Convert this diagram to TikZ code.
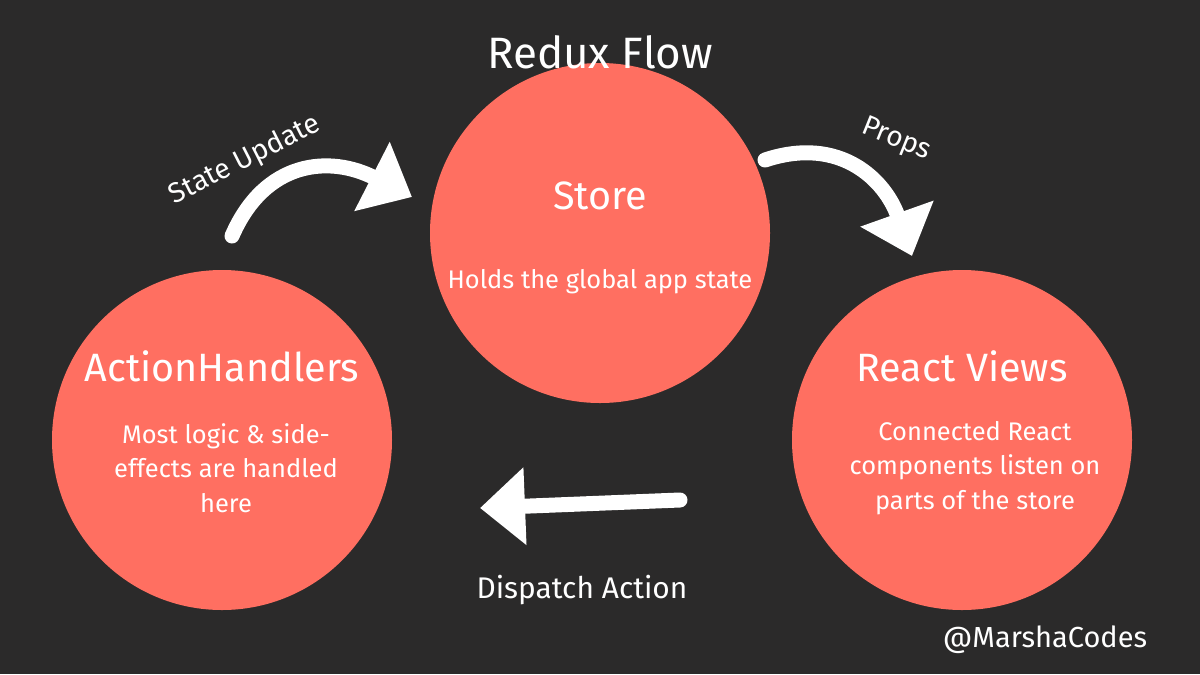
\documentclass[tikz,border=0pt]{standalone}
\usepackage{fontspec}
\setmainfont{Fira Sans}
\usetikzlibrary{arrows.meta}
\definecolor{bg}{HTML}{2B2A2A}
\definecolor{salmon}{HTML}{FF6F61}
\begin{document}
\begin{tikzpicture}[x=0.02cm,y=-0.02cm,
  bubble/.style={circle,fill=salmon,minimum size=340*0.02cm,inner sep=0pt},
  head/.style={text=white,font=\fontsize{22.5}{26}\selectfont},
  body/.style={text=white,font=\fontsize{14.5}{19.5}\selectfont,align=center},
  lbl/.style={text=white,font=\fontsize{16}{18}\selectfont},
  brush/.style={draw=white,line width=0.3cm,line cap=round,-{Triangle[length=0.9cm,width=1.5cm]}}]
\fill[bg] (0,0) rectangle (1200,674);
\node[bubble] (store) at (600,233) {};
\node[bubble] (ah) at (222,440) {};
\node[bubble] (rv) at (962,440) {};
\node[head] (st) at (600,196) {Store};
\node[body] (sb) at (600,282) {Holds the global app state};
\node[head] (aht) at (222,366) {ActionHandlers};
\node[body] (ahb) at (226,468) {Most logic \& side-\\effects are handled\\here};
\node[head] (rvt) at (962,366) {React Views};
\node[body] (rvb) at (975,468) {Connected React\\components listen on\\parts of the store};
\node[text=white,font=\fontsize{25}{30}\selectfont] (title) at (600,52) {Redux Flow};
\node[lbl,rotate=27] (su) at (245,160) {State Update};
\node[lbl,rotate=-22] (pr) at (896,140) {Props};
\node[text=white,font=\fontsize{17}{20}\selectfont] (da) at (582,590) {Dispatch Action};
\node[text=white,font=\fontsize{16.5}{20}\selectfont] (mc) at (1045,640) {@MarshaCodes};
\coordinate (a1) at (232,236);
\coordinate (a2) at (412,197);
\coordinate (b1) at (765,160);
\coordinate (b2) at (912,256);
\coordinate (c1) at (680,500);
\coordinate (c2) at (480,508);
\draw[brush] (a1) .. controls (265,160) and (330,155) .. (a2);
\draw[brush] (b1) .. controls (840,135) and (885,180) .. (b2);
\draw[brush] (c1) -- (c2);
\end{tikzpicture}
\end{document}
